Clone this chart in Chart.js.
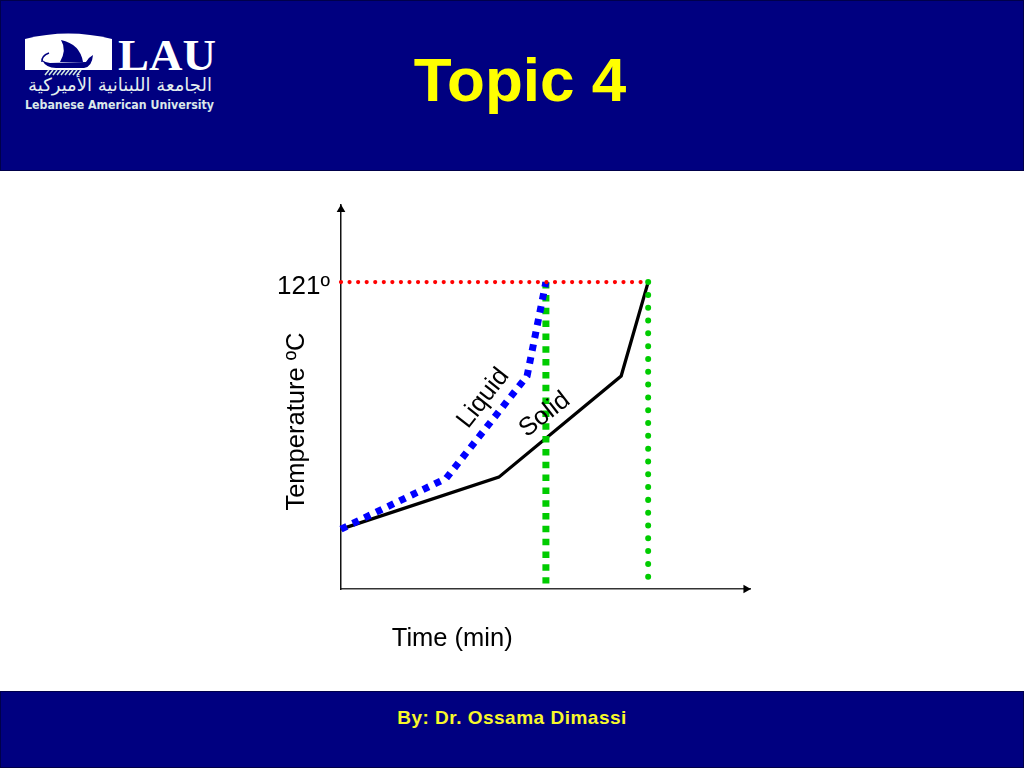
<!DOCTYPE html>
<html>
<head>
<meta charset="utf-8">
<title>Topic 4</title>
<script src="https://cdn.jsdelivr.net/npm/chart.js@4"></script>
<style>
    html, body { margin: 0; padding: 0; background: #fff; }
    body { position: relative; width: 1024px; height: 768px; overflow: hidden; font-family: "Liberation Sans", Arial, sans-serif; }
    .band { position: absolute; left: 0; width: 1024px; background: #000080; box-sizing: border-box; border: 1px solid #00004a; }
    #header { top: 0; height: 171px; }
    #footer { top: 691px; height: 77px; }
    #title { position: absolute; left: 0; width: 1040px; top: 44px; text-align: center; font-size: 62px; font-weight: bold; color: #ffff00; line-height: 72px; }
    #byline { position: absolute; left: 0; width: 1024px; top: 705px; text-align: center; font-size: 19px; letter-spacing: 0.5px; font-weight: bold; color: #f8f82a; line-height: 26px; }
    #logo { position: absolute; left: 0; top: 0; }
    #logoArabic { position: absolute; left: 20px; width: 200px; top: 70px; text-align: center; direction: rtl; font-family: "DejaVu Sans", sans-serif; font-size: 18px; line-height: 30px; color: #e4eeee; white-space: nowrap; }
    #chartWrap { position: absolute; left: 0; top: 0; width: 1024px; height: 768px; }
</style>
</head>
<body>
<div class="band" id="header"></div>
<div class="band" id="footer"></div>
<svg id="logo" width="260" height="171" viewBox="0 0 260 171">
    <path d="M25 70 V39 Q68 28 112 39 V70 Z" fill="#fff"/>
    <path d="M61 40 Q80 44 83 62 L60 62 Q67 50 61 40 Z" fill="#000080"/>
    <path d="M42 60 Q46 68 56 68 L84 68 Q92 67 93 55 Q89 57 86 62 L50 63 Q46 63 42 60 Z" fill="#000080"/>
    <path d="M49 53 Q41 56 42 62" fill="none" stroke="#000080" stroke-width="1.5"/>
    <path d="M45 75 L49 70 M49 75 L53 70 M53 75 L57 70 M57 75 L61 70 M61 75 L65 70 M65 75 L69 70 M69 75 L73 70 M73 75 L77 70 M77 75 L81 70" stroke="#cfe6e0" stroke-width="1.6"/>
    <text x="118" y="70" font-family="Liberation Serif" font-weight="bold" font-size="44" fill="#fff" textLength="98" lengthAdjust="spacingAndGlyphs">LAU</text>
    <text x="25" y="109" font-family="DejaVu Sans" font-weight="bold" font-size="12" fill="#dbe8ea" textLength="189" lengthAdjust="spacingAndGlyphs">Lebanese American University</text>
</svg>
<div id="logoArabic">الجامعة اللبنانية الأميركية</div>
<div id="title">Topic 4</div>
<div id="byline">By: Dr. Ossama Dimassi</div>
<div id="chartWrap"><canvas id="chart" width="1024" height="768"></canvas></div>

<script>
// 読み取った値 (x: time, arbitrary units / y: temperature)
const solidTime = [0, 38.6, 68.5, 75.1];
const solidTemp = [23.6, 44.1, 84, 121];
const liquidTime = [0, 25.7, 45.5, 50.1];
const liquidTemp = [23.6, 43.6, 84, 121];
const holdTime = [0, 75.1];
const holdTemp = [121, 121];
const liquidEndTime = [50.1, 50.1];
const liquidEndTemp = [121, 2.2];
const solidEndTime = [75.1, 75.1];
const solidEndTemp = [121, 4.3];
const yTicks = [121];
const yTickLabels = ['121º'];

const toPoints = (xs, ys) => xs.map((x, i) => ({ x: x, y: ys[i] }));

// 軸ラベルと曲線ラベル
const chartLabels = [
    { text: 'Temperature ºC', x: -10.7, y: 66, rotation: -90, size: 25.5 },
    { text: 'Time (min)', x: 27.2, y: -19.6, rotation: 0, size: 25.5 },
    { text: 'Liquid', x: 34.8, y: 75.2, rotation: -52, size: 25.5 },
    { text: 'Solid', x: 49.8, y: 68.7, rotation: -38, size: 25.5 }
];

const labelPlugin = {
    id: 'curveLabels',
    afterDraw(chart) {
        const ctx = chart.ctx;
        chartLabels.forEach(l => {
            ctx.save();
            ctx.translate(chart.scales.x.getPixelForValue(l.x), chart.scales.y.getPixelForValue(l.y));
            ctx.rotate(l.rotation * Math.PI / 180);
            ctx.font = l.size + 'px "Liberation Sans"';
            ctx.fillStyle = '#000';
            ctx.textAlign = 'center';
            ctx.textBaseline = 'middle';
            ctx.fillText(l.text, 0, 0);
            ctx.restore();
        });
    }
};

const lineDefaults = { showLine: true, pointRadius: 0, fill: false, tension: 0, clip: false };

new Chart(document.getElementById('chart'), {
    type: 'scatter',
    plugins: [labelPlugin],
    data: {
        datasets: [
            {
                ...lineDefaults,
                label: 'Solid',
                data: toPoints(solidTime, solidTemp),
                borderColor: '#000',
                borderWidth: 3.3,
                order: 5
            },
            {
                ...lineDefaults,
                label: 'Liquid end',
                data: toPoints(liquidEndTime, liquidEndTemp),
                borderColor: '#00cc00',
                borderWidth: 7,
                borderDash: [6.5, 6.33],
                order: 4
            },
            {
                ...lineDefaults,
                label: 'Solid end',
                data: toPoints(solidEndTime, solidEndTemp),
                borderColor: '#00cc00',
                borderWidth: 6,
                borderCapStyle: 'round',
                borderDash: [0.01, 12.8],
                order: 4
            },
            {
                ...lineDefaults,
                label: 'Liquid',
                data: toPoints(liquidTime, liquidTemp),
                borderColor: '#0000ff',
                borderWidth: 7,
                borderDash: [6.5, 6.5],
                order: 3
            },
            {
                ...lineDefaults,
                label: '121',
                data: toPoints(holdTime, holdTemp),
                borderColor: '#ff0000',
                borderWidth: 4.2,
                borderCapStyle: 'round',
                borderDash: [0.01, 8.55],
                order: 2
            },
            {
                label: 'y arrow',
                data: [{ x: 0, y: 149.6 }],
                showLine: false,
                pointStyle: 'triangle',
                pointRadius: 5,
                pointBorderWidth: 0,
                pointBackgroundColor: '#000',
                clip: false,
                order: 1
            },
            {
                label: 'x arrow',
                data: [{ x: 99, y: 0 }],
                showLine: false,
                pointStyle: 'triangle',
                pointRotation: 90,
                pointRadius: 5,
                pointBorderWidth: 0,
                pointBackgroundColor: '#000',
                clip: false,
                order: 1
            }
        ]
    },
    options: {
        responsive: false,
        animation: false,
        layout: { padding: { top: 205, right: 274, left: 0, bottom: 0 } },
        plugins: { legend: { display: false }, tooltip: { enabled: false }, title: { display: false } },
        scales: {
            x: {
                type: 'linear',
                min: 0,
                max: 100,
                afterFit(scale) { scale.height = 179; },
                grid: { display: false, drawTicks: false },
                border: { display: true, color: '#333', width: 1.5 },
                ticks: { display: false }
            },
            y: {
                type: 'linear',
                min: 0,
                max: 151.4,
                afterFit(scale) { scale.width = 341; },
                afterBuildTicks(scale) { scale.ticks = yTicks.map(v => ({ value: v })); },
                grid: { display: false, drawTicks: false },
                border: { display: true, color: '#111', width: 1.5 },
                ticks: {
                    padding: 11,
                    labelOffset: 5,
                    color: '#000',
                    font: { family: '"Liberation Sans"', size: 26 },
                    callback: function(value) {
                        return yTickLabels[yTicks.indexOf(value)];
                    }
                }
            }
        }
    }
});
</script>
</body>
</html>
